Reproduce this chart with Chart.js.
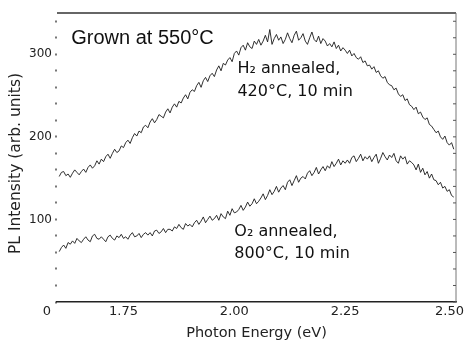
<!DOCTYPE html>
<html lang="en">
<head>
<meta charset="UTF-8">
<title>PL spectra</title>
<script src="https://cdn.jsdelivr.net/npm/chart.js"></script>
<style>
  html, body { margin: 0; padding: 0; background: #fff; }
</style>
</head>
<body>
<canvas id="pl" width="467" height="347"></canvas>
<script>
// photon energy (eV), one point every 5 meV
const energy = [
  1.605,1.610,1.615,1.620,1.625,1.630,1.635,1.640,1.645,1.650,
  1.655,1.660,1.665,1.670,1.675,1.680,1.685,1.690,1.695,1.700,
  1.705,1.710,1.715,1.720,1.725,1.730,1.735,1.740,1.745,1.750,
  1.755,1.760,1.765,1.770,1.775,1.780,1.785,1.790,1.795,1.800,
  1.805,1.810,1.815,1.820,1.825,1.830,1.835,1.840,1.845,1.850,
  1.855,1.860,1.865,1.870,1.875,1.880,1.885,1.890,1.895,1.900,
  1.905,1.910,1.915,1.920,1.925,1.930,1.935,1.940,1.945,1.950,
  1.955,1.960,1.965,1.970,1.975,1.980,1.985,1.990,1.995,2.000,
  2.005,2.010,2.015,2.020,2.025,2.030,2.035,2.040,2.045,2.050,
  2.055,2.060,2.065,2.070,2.075,2.080,2.085,2.090,2.095,2.100,
  2.105,2.110,2.115,2.120,2.125,2.130,2.135,2.140,2.145,2.150,
  2.155,2.160,2.165,2.170,2.175,2.180,2.185,2.190,2.195,2.200,
  2.205,2.210,2.215,2.220,2.225,2.230,2.235,2.240,2.245,2.250,
  2.255,2.260,2.265,2.270,2.275,2.280,2.285,2.290,2.295,2.300,
  2.305,2.310,2.315,2.320,2.325,2.330,2.335,2.340,2.345,2.350,
  2.355,2.360,2.365,2.370,2.375,2.380,2.385,2.390,2.395,2.400,
  2.405,2.410,2.415,2.420,2.425,2.430,2.435,2.440,2.445,2.450,
  2.455,2.460,2.465,2.470,2.475,2.480,2.485,2.490,2.495
];

// H2 annealed, 420C, 10 min
const h2Annealed = [
  152,157,158,153,155,151,156,160,157,154,
  158,161,157,163,166,162,165,171,167,173,
  170,176,179,174,180,185,181,183,189,187,
  193,196,192,199,204,201,207,205,212,214,
  211,218,222,217,221,227,225,223,230,234,
  229,236,240,236,243,241,247,251,246,254,
  257,255,262,266,260,268,272,267,274,277,
  273,281,286,280,289,287,293,296,291,301,
  304,299,308,311,305,314,309,307,316,312,
  318,311,316,323,315,330,312,319,324,317,
  321,313,318,326,319,314,323,328,317,320,
  325,316,312,320,327,318,315,322,313,319,
  316,310,313,309,315,307,311,304,308,305,
  301,305,298,301,296,294,297,290,292,286,
  287,282,285,278,280,274,271,273,266,263,
  262,257,259,252,249,251,244,246,239,237,
  233,236,228,230,224,221,223,215,213,209,
  205,207,200,197,201,193,190,193,185
];

// O2 annealed, 800C, 10 min
const o2Annealed = [
  61,66,69,65,72,70,74,71,77,74,
  72,76,79,75,73,80,82,77,76,79,
  76,73,79,81,77,75,80,78,82,77,
  79,76,81,84,79,80,83,78,82,84,
  81,84,80,86,87,83,85,89,84,88,
  88,86,91,89,94,90,88,95,92,94,
  91,96,99,94,98,103,96,100,104,99,
  101,105,99,107,103,101,110,105,113,108,
  109,112,117,111,115,121,116,119,125,119,
  122,126,131,124,129,136,130,134,140,133,
  138,141,136,145,148,141,147,153,145,150,
  152,149,156,159,153,157,163,155,160,164,
  159,165,162,170,164,168,173,166,171,168,
  172,168,175,177,170,174,179,171,176,173,
  177,170,175,179,168,174,181,176,172,178,
  175,180,171,168,177,173,176,167,171,169,
  166,160,167,157,162,154,158,150,155,148,
  147,142,145,138,140,134,136,129,127
];

const xTickValues = [1.75, 2.00, 2.25, 2.50];
const yTickValues = [0,20,40,60,80,100,120,140,160,180,200,220,240,260,280,300,320,340];
const yLabelValues = [100, 200, 300];

const tickFont = 'DejaVu Sans';

// frame, x labels, y title and the text notes
const extras = {
  id: 'extras',
  afterDraw(chart) {
    const { ctx, chartArea: a, scales: { x, y } } = chart;
    ctx.save();

    // top and right frame lines
    ctx.strokeStyle = '#333';
    ctx.lineWidth = 1.5;
    ctx.beginPath();
    ctx.moveTo(a.left, a.top);
    ctx.lineTo(a.right, a.top);
    ctx.stroke();
    ctx.strokeStyle = '#777';
    ctx.lineWidth = 1;
    ctx.beginPath();
    ctx.moveTo(a.right, a.top);
    ctx.lineTo(a.right, a.bottom);
    ctx.stroke();
    // small inward ticks on the right side
    ctx.strokeStyle = '#555';
    yTickValues.forEach(v => {
      const py = y.getPixelForValue(v);
      ctx.beginPath();
      ctx.moveTo(a.right - 3, py);
      ctx.lineTo(a.right, py);
      ctx.stroke();
    });

    // x tick labels (last one pulled inside the canvas)
    ctx.fillStyle = '#222';
    ctx.font = '13px ' + tickFont;
    ctx.textBaseline = 'middle';
    ctx.textAlign = 'center';
    xTickValues.forEach(v => {
      const label = v.toFixed(2);
      const w = ctx.measureText(label).width;
      let px = x.getPixelForValue(v);
      px = Math.min(px, chart.width - 3 - w / 2);
      ctx.fillText(label, px, a.bottom + 10);
    });
    // origin label
    ctx.fillText('0', a.left - 10, a.bottom + 10);

    // y axis title
    ctx.save();
    ctx.translate(16, (a.top + a.bottom) / 2 + 6);
    ctx.rotate(-Math.PI / 2);
    ctx.font = '15.5px ' + tickFont;
    ctx.fillText('PL Intensity (arb. units)', 0, 0);
    ctx.restore();

    // notes
    ctx.fillStyle = '#111';
    ctx.textAlign = 'left';
    ctx.font = '20px "Liberation Sans", Arial, sans-serif';
    ctx.fillText('Grown at 550\u00B0C', x.getPixelForValue(1.632), y.getPixelForValue(319));

    ctx.font = '16px ' + tickFont;
    ctx.fillText('H\u2082 annealed,', x.getPixelForValue(2.007), y.getPixelForValue(282));
    ctx.fillText('420\u00B0C, 10 min', x.getPixelForValue(2.007), y.getPixelForValue(255));
    ctx.fillText('O\u2082 annealed,', x.getPixelForValue(2.000), y.getPixelForValue(85));
    ctx.fillText('800\u00B0C, 10 min', x.getPixelForValue(2.000), y.getPixelForValue(58));

    ctx.restore();
  }
};

const ctx = document.getElementById('pl').getContext('2d');
new Chart(ctx, {
  type: 'line',
  data: {
    datasets: [
      {
        label: 'H2 annealed',
        data: energy.map((e, i) => ({ x: e, y: h2Annealed[i] })),
        borderColor: '#1a1a1a',
        borderWidth: 0.9,
        pointRadius: 0,
        tension: 0
      },
      {
        label: 'O2 annealed',
        data: energy.map((e, i) => ({ x: e, y: o2Annealed[i] })),
        borderColor: '#1a1a1a',
        borderWidth: 0.9,
        pointRadius: 0,
        tension: 0
      }
    ]
  },
  options: {
    responsive: false,
    devicePixelRatio: 1,
    animation: false,
    layout: { padding: { top: 13, right: 11, left: 0, bottom: 0 } },
    plugins: { legend: { display: false }, tooltip: { enabled: false } },
    scales: {
      x: {
        type: 'linear',
        min: 1.60,
        max: 2.50,
        afterBuildTicks: s => { s.ticks = xTickValues.map(v => ({ value: v })); },
        afterFit: s => { s.height = 45; s.paddingLeft = 0; s.paddingRight = 0; },
        ticks: { display: false },
        grid: { display: false },
        border: { display: true, color: '#222', width: 1.5 },
        title: {
          display: true,
          text: 'Photon Energy (eV)',
          color: '#222',
          font: { family: tickFont, size: 14.5 },
          padding: { top: 0, bottom: 5 },
          align: 'center'
        }
      },
      y: {
        min: 0,
        max: 350,
        afterBuildTicks: s => { s.ticks = yTickValues.map(v => ({ value: v })); },
        afterFit: s => { s.width = 57; s.paddingTop = 0; s.paddingBottom = 0; },
        ticks: {
          color: '#222',
          font: { family: tickFont, size: 12 },
          padding: 3,
          autoSkip: false,
          callback: v => (yLabelValues.includes(v) ? String(v) : '')
        },
        grid: {
          drawOnChartArea: false,
          drawTicks: true,
          tickLength: 2,
          tickWidth: 2,
          tickColor: '#777'
        },
        border: { display: false },
        title: { display: false }
      }
    }
  },
  plugins: [extras]
});
</script>
</body>
</html>
